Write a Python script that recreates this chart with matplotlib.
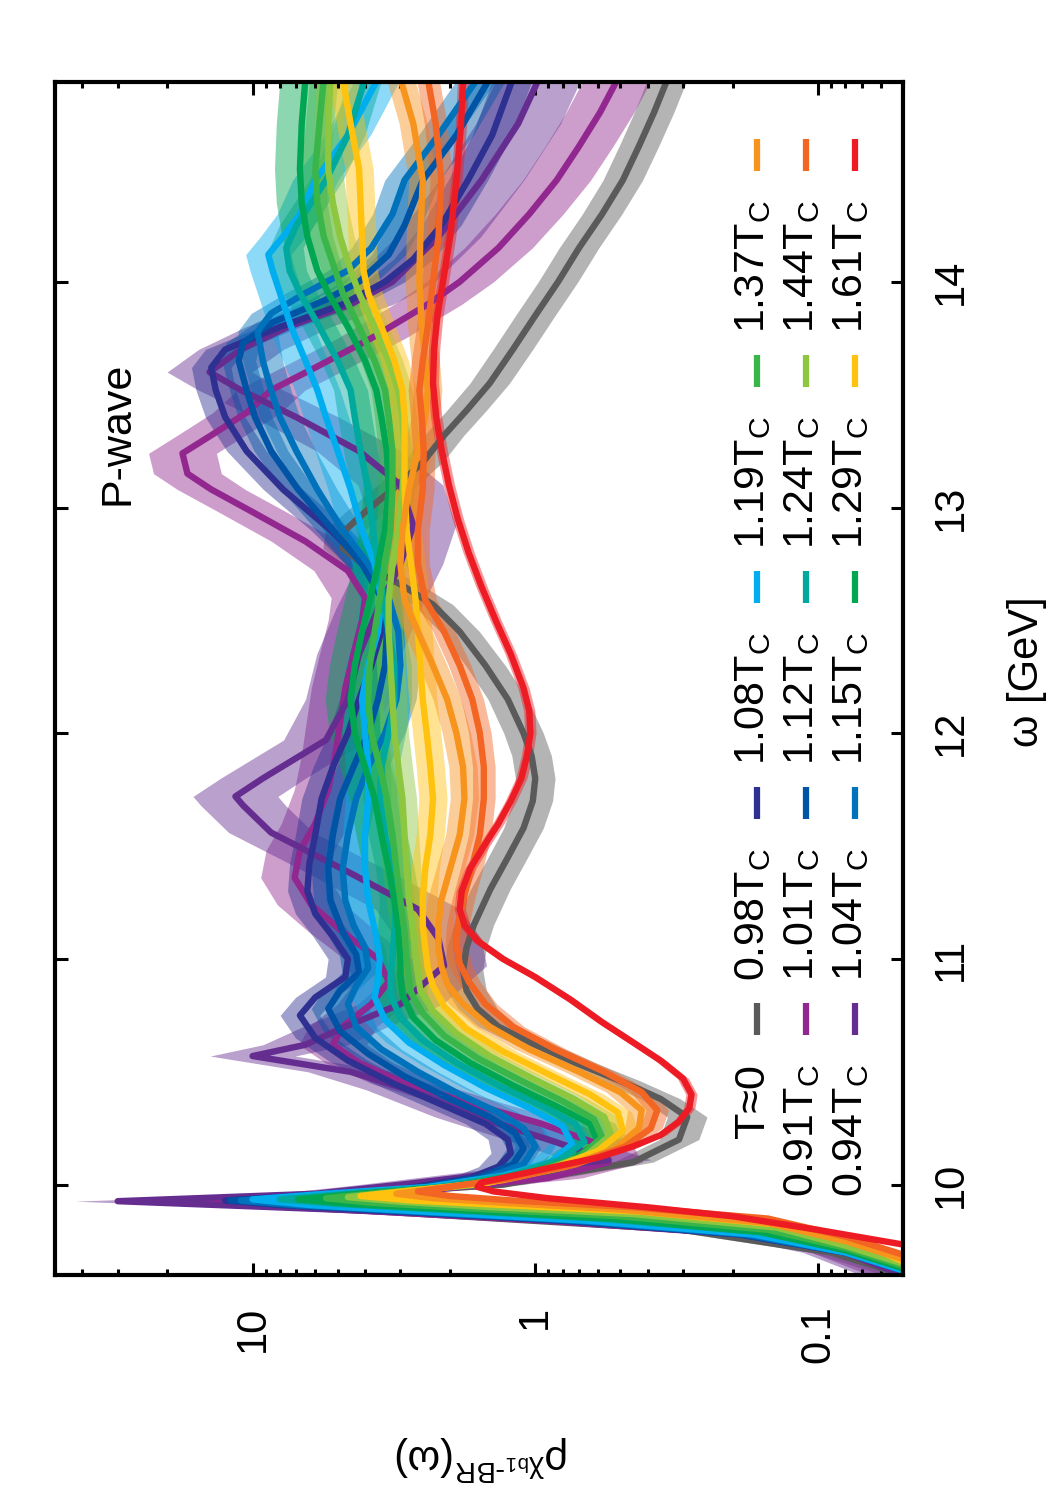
import numpy as np
import matplotlib
matplotlib.use('Agg')
import matplotlib.pyplot as plt
from matplotlib.lines import Line2D
from matplotlib.ticker import FixedLocator, FixedFormatter, LogLocator, NullFormatter

plt.rcParams['font.family'] = ['Liberation Sans', 'DejaVu Sans']
plt.rcParams['mathtext.fontset'] = 'custom'
plt.rcParams['mathtext.rm'] = 'Liberation Sans'
plt.rcParams['mathtext.it'] = 'Liberation Sans:italic'
plt.rcParams['mathtext.bf'] = 'Liberation Sans:bold'

# ---------------- data ----------------
labels = ['T≈0', '0.91T$_\\mathrm{C}$', '0.94T$_\\mathrm{C}$', '0.98T$_\\mathrm{C}$', '1.01T$_\\mathrm{C}$',
          '1.04T$_\\mathrm{C}$', '1.08T$_\\mathrm{C}$', '1.12T$_\\mathrm{C}$', '1.15T$_\\mathrm{C}$', '1.19T$_\\mathrm{C}$',
          '1.24T$_\\mathrm{C}$', '1.29T$_\\mathrm{C}$', '1.37T$_\\mathrm{C}$', '1.44T$_\\mathrm{C}$', '1.61T$_\\mathrm{C}$']
colors = ['#5a5a5a', '#92278f', '#662d91', '#2e3192', '#0054a6', '#0072bc', '#00aeef', '#00a99d',
          '#00a651', '#39b54a', '#8dc63f', '#ffc20e', '#f7941d', '#f26522', '#ed1c24']

om_T0 = [9.55, 9.60, 9.70, 9.80, 9.87, 9.92, 9.96, 10.00, 10.10, 10.20, 10.30, 10.38, 10.46, 10.54, 10.62, 10.70,
         10.78, 10.86, 10.95, 11.05, 11.15, 11.31, 11.45, 11.58, 11.70, 11.80, 11.90, 12.00, 12.15, 12.30, 12.45,
         12.57, 12.66, 12.74, 12.82, 12.90, 12.98, 13.08, 13.20, 13.32, 13.43, 13.55, 13.70, 13.85, 14.00, 14.15,
         14.30, 14.45, 14.60, 14.75, 14.90]
rho_T0 = [0.04, 0.05, 0.09, 0.30, 2.5, 12, 4.0, 1.3, 0.45, 0.31, 0.29, 0.36, 0.5, 0.72, 1.0, 1.35,
          1.6, 1.75, 1.8, 1.75, 1.65, 1.44, 1.25, 1.1, 1.02, 1.0, 1.03, 1.1, 1.25, 1.5, 1.85,
          2.3, 3.0, 4.0, 4.8, 4.7, 4.0, 3.2, 2.5, 2.1, 1.75, 1.45, 1.2, 1.0, 0.83, 0.7,
          0.58, 0.49, 0.43, 0.38, 0.34]

om_091 = [9.55, 9.60, 9.70, 9.78, 9.84, 9.88, 9.91, 9.925, 9.95, 9.98, 10.03, 10.10, 10.18, 10.27, 10.36, 10.45,
          10.54, 10.62, 10.70, 10.80, 10.90, 11.00, 11.12, 11.24, 11.36, 11.48, 11.60, 11.75, 11.90, 12.05, 12.20,
          12.35, 12.50, 12.60, 12.72, 12.85, 12.98, 13.08, 13.15, 13.24, 13.32, 13.42, 13.52, 13.62, 13.75, 13.90,
          14.00, 14.15, 14.30, 14.45, 14.60, 14.75, 14.90]
rho_091 = [0.04, 0.05, 0.08, 0.19, 0.9, 3.5, 10, 18, 7, 2.2, 0.9, 0.55, 0.6, 0.95, 1.7, 2.9,
           4.2, 5.2, 4.8, 3.8, 3.3, 3.6, 4.8, 6.2, 7.1, 6.8, 6.0, 5.4, 5.1, 4.9, 4.7,
           4.4, 4.1, 4.0, 4.6, 6.5, 10, 14, 17, 17.7, 14, 10.5, 8.6, 6.0, 3.8, 2.4,
           1.85, 1.35, 1.05, 0.84, 0.7, 0.59, 0.51]

om_094 = [9.55, 9.60, 9.70, 9.80, 9.87, 9.927, 9.96, 10.00, 10.11, 10.20, 10.30, 10.42, 10.50, 10.57, 10.62, 10.70,
          10.80, 10.97, 11.09, 11.22, 11.38, 11.56, 11.68, 11.72, 11.80, 11.97, 12.15, 12.35, 12.55, 12.75, 12.92,
          13.10, 13.25, 13.40, 13.52, 13.60, 13.70, 13.80, 13.90, 14.00, 14.20, 14.45, 14.70, 14.90]
rho_094 = [0.04, 0.05, 0.08, 0.19, 2.0, 30, 6, 3, 0.55, 0.9, 1.6, 2.8, 4.5, 10, 6.5, 4.7,
           3.0, 2.1, 2.2, 2.6, 4.5, 8.6, 10.8, 11.5, 9.2, 5.5, 4.6, 4.2, 3.6, 3.0, 2.7,
           3.0, 4.2, 7.0, 11, 14.2, 11, 7.5, 4.5, 3.2, 2.2, 1.55, 1.15, 0.97]

om_098 = [9.57, 9.62, 9.70, 9.78, 9.84, 9.88, 9.91, 9.93, 9.95, 9.98, 10.03, 10.08, 10.14, 10.20, 10.27, 10.35,
          10.45, 10.55, 10.65, 10.75, 10.83, 10.92, 11.00, 11.10, 11.20, 11.30, 11.42, 11.55, 11.71, 11.85, 12.00,
          12.15, 12.30, 12.45, 12.60, 12.75, 12.90, 13.08, 13.25, 13.40, 13.52, 13.62, 13.70, 13.80, 13.90, 14.00,
          14.10, 14.25, 14.45, 14.65, 14.90]
rho_098 = [0.04, 0.05, 0.08, 0.19, 0.8, 3, 8, 12.5, 7, 3.0, 1.7, 1.35, 1.22, 1.25, 1.5, 2.1,
           3.2, 4.6, 6.0, 6.8, 6.0, 4.7, 4.6, 5.2, 6.0, 6.4, 6.3, 6.0, 5.7, 5.2, 4.6,
           4.2, 3.8, 3.5, 3.4, 4.0, 5.3, 7.8, 10.5, 12.5, 13.5, 14, 12.5, 8.0, 4.8, 3.4,
           2.7, 2.15, 1.73, 1.42, 1.2]

om_101 = [9.57, 9.62, 9.70, 9.78, 9.84, 9.88, 9.91, 9.93, 9.95, 9.98, 10.03, 10.09, 10.16, 10.23, 10.30, 10.38,
          10.48, 10.58, 10.68, 10.78, 10.86, 10.94, 11.02, 11.12, 11.26, 11.40, 11.55, 11.71, 11.85, 12.00, 12.15,
          12.30, 12.45, 12.60, 12.75, 12.90, 13.08, 13.25, 13.40, 13.52, 13.65, 13.73, 13.82, 13.92, 14.00, 14.12,
          14.25, 14.45, 14.65, 14.90]
rho_101 = [0.04, 0.05, 0.08, 0.19, 0.75, 2.8, 7.5, 12, 6.5, 2.8, 1.6, 1.2, 1.1, 1.18, 1.45, 2.0,
           2.9, 3.9, 4.9, 5.4, 4.9, 4.2, 4.3, 4.8, 5.3, 5.4, 5.2, 4.9, 4.4, 3.9, 3.6,
           3.4, 3.35, 3.5, 4.1, 5.2, 6.9, 8.6, 9.8, 10.5, 11.2, 10.8, 8.5, 5.5, 4.2, 3.3,
           2.9, 2.5, 1.9, 1.45]

om_104 = [9.57, 9.62, 9.70, 9.78, 9.84, 9.88, 9.91, 9.93, 9.95, 9.98, 10.03, 10.09, 10.17, 10.25, 10.32, 10.40,
          10.50, 10.60, 10.70, 10.80, 10.88, 10.96, 11.05, 11.15, 11.26, 11.40, 11.55, 11.71, 11.85, 12.00, 12.15,
          12.30, 12.45, 12.60, 12.75, 12.90, 13.08, 13.25, 13.40, 13.52, 13.65, 13.78, 13.86, 13.95, 14.05, 14.15,
          14.30, 14.45, 14.65, 14.90]
rho_104 = [0.04, 0.05, 0.08, 0.18, 0.7, 2.6, 7, 11, 6, 2.6, 1.5, 1.1, 1.0, 1.1, 1.35, 1.85,
           2.6, 3.5, 4.3, 4.6, 4.3, 3.9, 4.0, 4.4, 4.7, 4.8, 4.6, 4.3, 3.9, 3.4, 3.1,
           3.0, 3.05, 3.3, 3.9, 4.8, 5.9, 7.0, 8.0, 8.6, 9.2, 9.6, 8.6, 6.5, 4.6, 3.8,
           3.2, 2.9, 2.2, 1.6]

om_108 = [9.57, 9.62, 9.70, 9.78, 9.84, 9.88, 9.91, 9.935, 9.96, 9.99, 10.04, 10.10, 10.18, 10.26, 10.34, 10.43,
          10.53, 10.63, 10.73, 10.83, 10.91, 11.00, 11.10, 11.26, 11.40, 11.55, 11.71, 11.85, 12.00, 12.15, 12.30,
          12.45, 12.59, 12.75, 12.90, 13.08, 13.25, 13.40, 13.52, 13.65, 13.80, 13.95, 14.05, 14.12, 14.20, 14.30,
          14.45, 14.65, 14.90]
rho_108 = [0.04, 0.05, 0.08, 0.17, 0.65, 2.4, 6.3, 10, 5.5, 2.4, 1.3, 0.88, 0.74, 0.8, 1.05, 1.5,
           2.1, 2.8, 3.4, 3.7, 3.6, 3.55, 3.65, 3.9, 4.0, 4.0, 3.9, 3.9, 4.0, 4.1, 3.9,
           3.6, 3.5, 3.7, 4.1, 4.5, 5.0, 5.5, 5.9, 6.5, 7.3, 8.0, 8.5, 8.8, 7.8, 6.8,
           6.0, 4.6, 3.6]

om_112 = [9.58, 9.63, 9.71, 9.79, 9.85, 9.89, 9.915, 9.935, 9.96, 9.99, 10.04, 10.11, 10.19, 10.27, 10.35, 10.44,
          10.54, 10.64, 10.74, 10.84, 10.92, 11.00, 11.12, 11.26, 11.40, 11.55, 11.71, 11.85, 12.00, 12.15, 12.30,
          12.45, 12.59, 12.75, 12.90, 13.08, 13.25, 13.40, 13.52, 13.65, 13.80, 13.95, 14.05, 14.15, 14.25, 14.35,
          14.45, 14.65, 14.90]
rho_112 = [0.04, 0.05, 0.08, 0.16, 0.6, 2.2, 5, 8, 4.6, 2.2, 1.25, 0.82, 0.67, 0.72, 0.95, 1.35,
           1.9, 2.5, 3.0, 3.25, 3.25, 3.2, 3.15, 3.1, 3.2, 3.4, 3.55, 3.5, 3.3, 3.15, 3.15,
           3.3, 3.45, 3.6, 3.75, 3.9, 4.15, 4.35, 4.5, 5.0, 5.8, 6.8, 7.4, 7.6, 7.0, 6.2,
           5.5, 4.6, 4.0]

om_115 = [9.58, 9.63, 9.71, 9.79, 9.85, 9.89, 9.915, 9.935, 9.96, 9.99, 10.04, 10.11, 10.19, 10.27, 10.35, 10.44,
          10.54, 10.64, 10.74, 10.84, 10.92, 11.00, 11.12, 11.26, 11.40, 11.55, 11.71, 11.85, 12.00, 12.15, 12.30,
          12.45, 12.59, 12.75, 12.90, 13.08, 13.25, 13.40, 13.52, 13.65, 13.80, 13.95, 14.05, 14.20, 14.35, 14.50,
          14.70, 14.90]
rho_115 = [0.04, 0.05, 0.08, 0.16, 0.55, 2.0, 4.5, 6.9, 4.2, 2.0, 1.15, 0.74, 0.6, 0.64, 0.85, 1.2,
           1.7, 2.25, 2.7, 2.95, 3.0, 3.0, 3.05, 3.15, 3.3, 3.5, 3.7, 4.0, 4.35, 4.5, 4.35,
           4.1, 3.85, 3.6, 3.4, 3.3, 3.35, 3.5, 3.65, 4.0, 4.6, 5.4, 5.9, 6.4, 6.7, 6.8,
           6.7, 6.5]

om_119 = [9.59, 9.64, 9.72, 9.80, 9.86, 9.895, 9.92, 9.94, 9.965, 9.995, 10.05, 10.12, 10.21, 10.29, 10.37, 10.46,
          10.56, 10.66, 10.76, 10.85, 10.92, 11.00, 11.12, 11.26, 11.40, 11.55, 11.71, 11.85, 12.00, 12.15, 12.30,
          12.45, 12.59, 12.75, 12.90, 13.08, 13.25, 13.40, 13.52, 13.65, 13.80, 13.95, 14.05, 14.20, 14.35, 14.50,
          14.70, 14.90]
rho_119 = [0.04, 0.05, 0.08, 0.15, 0.5, 1.7, 3.8, 5.5, 3.5, 1.8, 1.05, 0.7, 0.58, 0.62, 0.8, 1.12,
           1.6, 2.1, 2.5, 2.75, 2.8, 2.85, 2.9, 3.0, 3.1, 3.2, 3.35, 3.55, 3.8, 3.9, 3.85,
           3.7, 3.55, 3.4, 3.25, 3.2, 3.2, 3.3, 3.4, 3.7, 4.2, 4.8, 5.1, 5.6, 5.9, 6.0,
           5.8, 5.6]

om_124 = [9.60, 9.65, 9.73, 9.81, 9.87, 9.90, 9.925, 9.945, 9.97, 10.00, 10.06, 10.13, 10.22, 10.30, 10.38, 10.47,
          10.57, 10.67, 10.77, 10.86, 10.93, 11.00, 11.12, 11.26, 11.40, 11.55, 11.71, 11.85, 12.00, 12.15, 12.30,
          12.45, 12.59, 12.75, 12.90, 13.08, 13.25, 13.40, 13.52, 13.65, 13.80, 13.95, 14.05, 14.20, 14.35, 14.50,
          14.70, 14.90]
rho_124 = [0.04, 0.05, 0.08, 0.14, 0.45, 1.4, 3.0, 4.6, 3.0, 1.6, 0.95, 0.66, 0.54, 0.57, 0.73, 1.02,
           1.45, 1.9, 2.3, 2.55, 2.6, 2.65, 2.7, 2.8, 2.85, 2.9, 2.95, 3.05, 3.15, 3.2, 3.25,
           3.3, 3.3, 3.2, 3.05, 2.95, 2.9, 2.95, 3.05, 3.3, 3.7, 4.2, 4.5, 4.9, 5.2, 5.4,
           5.4, 5.3]

om_129 = [9.61, 9.66, 9.74, 9.82, 9.88, 9.91, 9.93, 9.95, 9.975, 10.01, 10.07, 10.15, 10.24, 10.32, 10.40, 10.49,
          10.59, 10.69, 10.79, 10.88, 10.96, 11.05, 11.15, 11.26, 11.40, 11.55, 11.71, 11.85, 12.00, 12.15, 12.30,
          12.45, 12.59, 12.75, 12.90, 13.08, 13.25, 13.40, 13.52, 13.65, 13.80, 13.95, 14.05, 14.20, 14.35, 14.50,
          14.70, 14.90]
rho_129 = [0.04, 0.05, 0.07, 0.13, 0.42, 1.3, 2.7, 4.15, 2.7, 1.45, 0.88, 0.6, 0.49, 0.51, 0.64, 0.9,
           1.3, 1.75, 2.1, 2.3, 2.4, 2.45, 2.5, 2.5, 2.45, 2.35, 2.3, 2.35, 2.42, 2.5, 2.55,
           2.6, 2.65, 2.75, 2.85, 2.9, 2.9, 2.9, 2.95, 3.15, 3.5, 3.9, 4.05, 4.1, 4.15, 4.2,
           4.5, 4.8]

om_137 = [9.62, 9.67, 9.75, 9.83, 9.89, 9.92, 9.94, 9.96, 9.985, 10.02, 10.08, 10.16, 10.25, 10.33, 10.41, 10.50,
          10.60, 10.70, 10.80, 10.89, 10.97, 11.05, 11.15, 11.26, 11.40, 11.55, 11.71, 11.85, 12.00, 12.15, 12.30,
          12.45, 12.59, 12.75, 12.90, 13.08, 13.25, 13.40, 13.52, 13.65, 13.80, 14.00, 14.20, 14.45, 14.70, 14.90]
rho_137 = [0.04, 0.05, 0.08, 0.15, 0.5, 1.3, 2.3, 3.1, 2.2, 1.3, 0.78, 0.52, 0.43, 0.42, 0.5, 0.7,
           1.05, 1.45, 1.8, 2.05, 2.15, 2.2, 2.2, 2.15, 2.0, 1.85, 1.78, 1.8, 1.9, 2.05, 2.3,
           2.6, 2.9, 3.0, 2.95, 2.8, 2.6, 2.45, 2.4, 2.45, 2.52, 2.57, 2.55, 2.5, 2.7, 3.0]

om_144 = [9.64, 9.69, 9.77, 9.85, 9.90, 9.93, 9.95, 9.97, 9.995, 10.03, 10.09, 10.17, 10.25, 10.33, 10.41, 10.50,
          10.60, 10.70, 10.80, 10.90, 10.98, 11.06, 11.15, 11.26, 11.40, 11.55, 11.71, 11.85, 12.00, 12.15, 12.30,
          12.45, 12.59, 12.75, 12.90, 13.08, 13.25, 13.40, 13.52, 13.65, 13.80, 14.00, 14.20, 14.45, 14.70, 14.90]
rho_144 = [0.04, 0.05, 0.08, 0.15, 0.45, 1.2, 2.0, 2.6, 1.9, 1.2, 0.72, 0.48, 0.39, 0.37, 0.42, 0.57,
           0.85, 1.2, 1.5, 1.72, 1.85, 1.9, 1.88, 1.8, 1.68, 1.57, 1.52, 1.52, 1.57, 1.67, 1.85,
           2.1, 2.45, 2.6, 2.6, 2.5, 2.48, 2.52, 2.57, 2.5, 2.4, 2.3, 2.2, 2.15, 2.25, 2.4]

om_161 = [9.70, 9.735, 9.80, 9.86, 9.90, 9.94, 9.97, 9.99, 10.01, 10.04, 10.08, 10.12, 10.17, 10.22, 10.28, 10.34,
          10.40, 10.47, 10.55, 10.63, 10.72, 10.82, 10.92, 11.00, 11.08, 11.15, 11.22, 11.30, 11.40, 11.50, 11.60,
          11.70, 11.80, 11.90, 12.00, 12.10, 12.20, 12.35, 12.50, 12.65, 12.80, 12.95, 13.10, 13.25, 13.40, 13.55,
          13.70, 13.85, 14.00, 14.20, 14.45, 14.70, 14.90]
rho_161 = [0.04, 0.05, 0.10, 0.2, 0.4, 0.9, 1.4, 1.6, 1.55, 1.2, 0.85, 0.6, 0.45, 0.36, 0.31, 0.285,
           0.28, 0.3, 0.36, 0.45, 0.58, 0.75, 1.0, 1.3, 1.6, 1.78, 1.85, 1.82, 1.7, 1.52, 1.35,
           1.22, 1.12, 1.07, 1.04, 1.05, 1.1, 1.22, 1.38, 1.55, 1.72, 1.88, 2.02, 2.14, 2.24, 2.3,
           2.28, 2.22, 2.12, 2.0, 1.9, 1.83, 1.8]

omegas = [om_T0, om_091, om_094, om_098, om_101, om_104, om_108, om_112, om_115, om_119,
          om_124, om_129, om_137, om_144, om_161]
rhos = [rho_T0, rho_091, rho_094, rho_098, rho_101, rho_104, rho_108, rho_112, rho_115, rho_119,
        rho_124, rho_129, rho_137, rho_144, rho_161]
# band half-width (in decades) per curve
band_dex = [0.07, 0.12, 0.15, 0.07, 0.06, 0.07, 0.08, 0.06, 0.09, 0.05, 0.05, 0.05, 0.05, 0.04, 0.02]

xticks = [0.1, 1, 10]
xtick_labels = ['0.1', '1', '10']
yticks = [10, 11, 12, 13, 14]
ytick_labels = ['10', '11', '12', '13', '14']

# ---------------- figure ----------------
W, H = 1050, 1500
fig = plt.figure(figsize=(W / 100, H / 100), dpi=100)
L, R, T, B = 55, 903, 82, 1275
ax = fig.add_axes([L / W, 1 - B / H, (R - L) / W, (B - T) / H])

for om, rh, col, bd in zip(omegas, rhos, colors, band_dex):
    om = np.array(om)
    rh = np.array(rh)
    ax.fill_betweenx(om, rh * 10 ** (-bd), rh * 10 ** bd, color=col, alpha=0.45, lw=0)
    ax.plot(rh, om, color=col, lw=4.6, solid_joinstyle='round')

ax.set_xscale('log')
ax.set_xlim(50, 0.05)
ax.set_ylim(9.6, 14.885)

ax.xaxis.set_major_locator(FixedLocator(xticks))
ax.xaxis.set_major_formatter(FixedFormatter(xtick_labels))
ax.xaxis.set_minor_locator(LogLocator(base=10, subs=np.arange(2, 10)))
ax.xaxis.set_minor_formatter(NullFormatter())
ax.yaxis.set_major_locator(FixedLocator(yticks))
ax.yaxis.set_major_formatter(FixedFormatter(ytick_labels))

ax.tick_params(axis='both', which='both', direction='in', top=True, bottom=True, left=True, right=True,
               width=2.2, color='black')
ax.tick_params(axis='both', which='major', length=9)
ax.tick_params(axis='x', which='minor', length=4.5)
ax.tick_params(axis='x', labelsize=30, labelrotation=90, pad=22)
ax.tick_params(axis='y', labelleft=False, labelright=True, labelsize=30, labelrotation=90, pad=20)
for lab in ax.get_xticklabels():
    lab.set_va('top')
for lab in ax.get_yticklabels():
    lab.set_va('center')
    lab.set_ha('left')
for sp in ax.spines.values():
    sp.set_linewidth(3)

# axis titles (rotated chart)
fig.text(1027 / W, 1 - 672 / H, 'ω [GeV]', rotation=90, ha='center', va='center', fontsize=30)
fig.text(482 / W, 1 - 1458 / H, r'$\mathrm{\rho}^{\mathrm{\chi}_{\mathrm{b1}}\text{-BR}}(\mathrm{\omega})$',
         rotation=180, ha='center', va='center', fontsize=30)
fig.text(117 / W, 1 - 505 / H, 'P-wave', rotation=90, ha='center', va='bottom', fontsize=31)

# legend (rotated: text below, sample above)
for i, (lab, col) in enumerate(zip(labels, colors)):
    g, r = i // 3, i % 3
    yc = 1019 - 216 * g
    xs = 757 + 49 * r
    xt = 753 + 49 * r
    fig.add_artist(Line2D([xs / W, xs / W], [1 - (yc - 16) / H, 1 - (yc + 16) / H],
                          transform=fig.transFigure, color=col, lw=4.5, solid_capstyle='butt'))
    fig.text(xt / W, 1 - (yc + 45) / H, lab, rotation=90, ha='center', va='top', fontsize=31)

fig.savefig('out.png', dpi=100)
